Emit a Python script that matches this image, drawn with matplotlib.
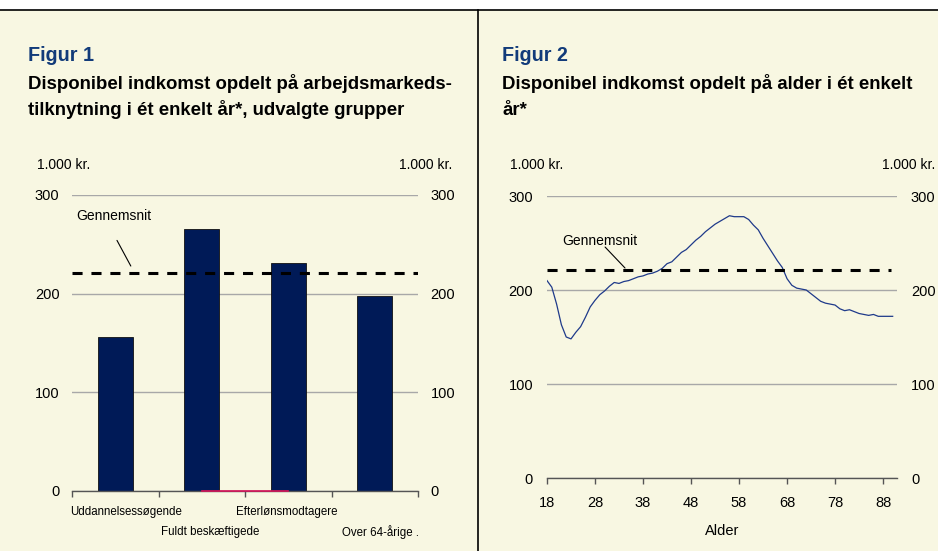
import matplotlib.pyplot as plt
from matplotlib.lines import Line2D
from matplotlib.patches import Rectangle
from matplotlib.transforms import blended_transform_factory

# Figur 1: disponibel indkomst by labour-market group (1.000 kr.)
groups = ["Uddannelsessøgende", "Fuldt beskæftigede", "Efterlønsmodtagere", "Over 64-årige ."]
group_income = [156, 266, 231, 198]
average_income = 221
red_x = [1, 2]
red_y = [0, 0]

# Figur 2: disponibel indkomst by age (1.000 kr.)
ages = list(range(18, 91))
age_income = [210, 203, 185, 163, 150, 148, 155, 161, 171, 182,
              189, 195, 199, 204, 208, 207, 209, 210, 212, 214,
              215, 217, 218, 220, 223, 228, 230, 235, 240, 243,
              248, 253, 257, 262, 266, 270, 273, 276, 279, 278,
              278, 278, 275, 269, 264, 255, 247, 239, 231, 224,
              212, 205, 202, 201, 200, 196, 192, 188, 186, 185,
              184, 180, 178, 179, 177, 175, 174, 173, 174, 172,
              172, 172, 172]
age_ticks = [18, 28, 38, 48, 58, 68, 78, 88]
y_ticks = [0, 100, 200, 300]

W, H = 938, 551
BG = "#F8F7E2"
NAVY = "#001A57"
TITLE_BLUE = "#123B7A"
GRID = "#A8A8A8"

plt.rcParams["font.family"] = ["Liberation Sans", "DejaVu Sans"]


def px(x):
    return x / W


def py(y):
    return 1 - y / H


fig = plt.figure(figsize=(W / 100, H / 100), dpi=100, facecolor=BG)

# white strip above the top rule, then the rules
fig.patches.append(Rectangle((0, py(10)), 1, 1 - py(10), transform=fig.transFigure,
                             facecolor="white", edgecolor="none", zorder=0))
fig.add_artist(Line2D([0, 1], [py(10), py(10)], color="black", lw=1.2))
fig.add_artist(Line2D([px(478), px(478)], [0, py(10)], color="black", lw=1.2))

# titles
fig.text(px(28), py(61), "Figur 1", color=TITLE_BLUE, fontsize=14.2, fontweight="bold")
fig.text(px(28), py(89), "Disponibel indkomst opdelt på arbejdsmarkeds-", fontsize=13.4, fontweight="bold")
fig.text(px(28), py(115), "tilknytning i ét enkelt år*, udvalgte grupper", fontsize=13.4, fontweight="bold")
fig.text(px(502), py(61), "Figur 2", color=TITLE_BLUE, fontsize=14.2, fontweight="bold")
fig.text(px(502), py(89), "Disponibel indkomst opdelt på alder i ét enkelt", fontsize=13.4, fontweight="bold")
fig.text(px(502), py(115), "år*", fontsize=13.4, fontweight="bold")

# unit labels
fig.text(px(37), py(165), "1.000 kr.", fontsize=10, va="center")
fig.text(px(452), py(165), "1.000 kr.", fontsize=10, va="center", ha="right")
fig.text(px(510), py(165), "1.000 kr.", fontsize=10, va="center")
fig.text(px(935), py(165), "1.000 kr.", fontsize=10, va="center", ha="right")

dash = (0, (3.3, 2.9))

# ---------- Figur 1 ----------
ax1 = fig.add_axes([px(72), py(491), px(418) - px(72), py(195) - py(491)])
ax1.set_facecolor("none")
pos = list(range(len(groups)))
ax1.bar(pos, group_income, width=0.41, color=NAVY, edgecolor="#111111", lw=0.6, zorder=2)
ax1.plot(red_x, red_y, color="#D8145A", lw=1.2, zorder=3, clip_on=False)
ax1.plot([-0.5, 3.5], [average_income, average_income], color="black", lw=2.2,
         linestyle=dash, zorder=4)
ax1.set_xlim(-0.5, 3.5)
ax1.set_ylim(0, 300)
ax1.set_yticks(y_ticks)
ax1.yaxis.grid(True, color=GRID, lw=1.0, zorder=0)
ax1.set_axisbelow(True)
ax1.tick_params(axis="y", length=0, labelleft=True, labelright=True, labelsize=10.5, pad=9)
ax1.set_xticks([-0.5, 0.5, 1.5, 2.5, 3.5])
ax1.set_xticklabels([])
ax1.tick_params(axis="x", length=4, width=1, color="#555555", direction="out")
for side in ["left", "right", "top"]:
    ax1.spines[side].set_visible(False)
ax1.spines["bottom"].set_color("#555555")
ax1.spines["bottom"].set_linewidth(1.0)

# staggered category labels
label_offsets = [0.124, 0.095, -0.014, 0.07]
label_rows = [512, 532, 512, 532]
lab_tr = blended_transform_factory(ax1.transData, fig.transFigure)
for i, name in enumerate(groups):
    ax1.text(pos[i] + label_offsets[i], py(label_rows[i]), name, fontsize=8.3,
             ha="center", va="center", transform=lab_tr)

ax1.text(-0.014, 279, "Gennemsnit", fontsize=10, ha="center", va="center")
ax1.annotate("", xy=(0.18, 228), xytext=(0.02, 254),
             arrowprops=dict(arrowstyle="-", color="black", lw=0.8, shrinkA=0, shrinkB=0))

# ---------- Figur 2 ----------
ax2 = fig.add_axes([px(547), py(478), px(897) - px(547), py(196) - py(478)])
ax2.set_facecolor("none")
ax2.plot(ages, age_income, color="#1F3A8A", lw=0.9, zorder=3)
ax2.plot([ages[0], 89.6], [average_income, average_income], color="black", lw=2.2,
         linestyle=dash, zorder=4)
ax2.set_xlim(18, 90.9)
ax2.set_ylim(0, 300)
ax2.set_yticks(y_ticks)
ax2.yaxis.grid(True, color=GRID, lw=1.0, zorder=0)
ax2.set_axisbelow(True)
ax2.tick_params(axis="y", length=0, labelleft=True, labelright=True, labelsize=10.5, pad=10)
ax2.set_xticks(age_ticks)
ax2.tick_params(axis="x", length=4, width=1, color="#555555", direction="out",
                labelsize=10.5, pad=9)
for side in ["left", "right", "top"]:
    ax2.spines[side].set_visible(False)
ax2.spines["bottom"].set_color("#555555")
ax2.spines["bottom"].set_linewidth(1.0)
ax2.set_xlabel("Alder", fontsize=10.5, labelpad=10)

ax2.text(29.0, 252, "Gennemsnit", fontsize=10, ha="center", va="center")
ax2.annotate("", xy=(34.25, 223.4), xytext=(30.1, 245.7),
             arrowprops=dict(arrowstyle="-", color="black", lw=0.8, shrinkA=0, shrinkB=0))

fig.savefig("out.png", dpi=100, facecolor=BG)
